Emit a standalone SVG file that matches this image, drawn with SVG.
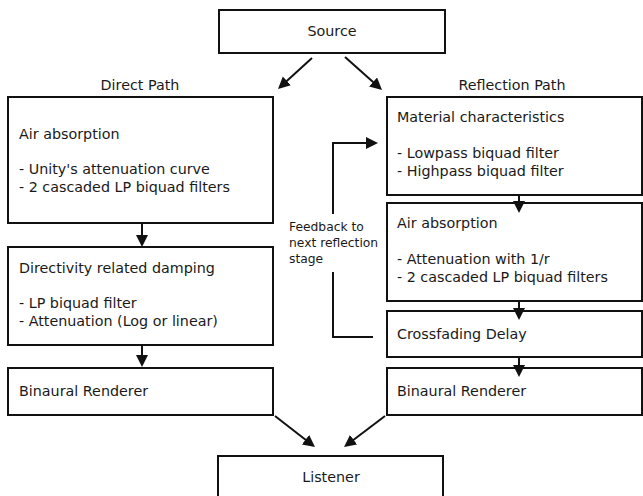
<svg xmlns="http://www.w3.org/2000/svg" width="643" height="496" viewBox="0 0 643 496">
<style>
.box{fill:#fff;stroke:#111;stroke-width:2}
.t{font-family:"DejaVu Sans",sans-serif;font-size:14.3px;fill:#1a1a1a}
.c{text-anchor:middle}
.s{font-family:"DejaVu Sans",sans-serif;font-size:12.3px;fill:#1a1a1a}
.ln{fill:none;stroke:#111;stroke-width:2;marker-end:url(#ah)}
.pl{fill:none;stroke:#111;stroke-width:2}
</style>
<defs>
<marker id="ah" markerUnits="userSpaceOnUse" markerWidth="13" markerHeight="13" refX="9" refY="6" orient="auto">
<path d="M0,0 L12,6 L0,12 z" fill="#111"/>
</marker>
</defs>
<rect width="643" height="496" fill="#fff"/>
<g id="source"><rect class="box" x="219" y="10" width="226" height="43"/><text class="t c" x="332" y="36">Source</text></g>
<g id="label-direct"><text class="t c" x="140" y="90">Direct Path</text></g>
<g id="label-reflection"><text class="t c" x="512" y="90">Reflection Path</text></g>
<g id="d-air"><rect class="box" x="8" y="97" width="265" height="126"/>
<text class="t" x="19" y="139">Air absorption</text>
<text class="t" x="19" y="174">- Unity's attenuation curve</text>
<text class="t" x="19" y="192">- 2 cascaded LP biquad filters</text></g>
<g id="d-dir"><rect class="box" x="8" y="247" width="265" height="98"/>
<text class="t" x="19" y="273">Directivity related damping</text>
<text class="t" x="19" y="308">- LP biquad filter</text>
<text class="t" x="19" y="326">- Attenuation (Log or linear)</text></g>
<g id="d-bin"><rect class="box" x="8" y="368" width="265" height="47"/>
<text class="t" x="19" y="396">Binaural Renderer</text></g>
<g id="r-mat"><rect class="box" x="387" y="97" width="255" height="98"/>
<text class="t" x="397" y="122">Material characteristics</text>
<text class="t" x="397" y="158">- Lowpass biquad filter</text>
<text class="t" x="397" y="176">- Highpass biquad filter</text></g>
<g id="r-air"><rect class="box" x="387" y="203" width="255" height="98"/>
<text class="t" x="397" y="228">Air absorption</text>
<text class="t" x="397" y="264">- Attenuation with 1/r</text>
<text class="t" x="397" y="282">- 2 cascaded LP biquad filters</text></g>
<g id="r-delay"><rect class="box" x="387" y="311" width="255" height="46"/>
<text class="t" x="397" y="339">Crossfading Delay</text></g>
<g id="r-bin"><rect class="box" x="387" y="368" width="255" height="47"/>
<text class="t" x="397" y="396">Binaural Renderer</text></g>
<g id="listener"><rect class="box" x="218" y="456" width="225" height="50"/>
<text class="t c" x="331" y="482">Listener</text></g>
<g id="feedback-label">
<text class="s" x="289" y="231">Feedback to</text>
<text class="s" x="289" y="247">next reflection</text>
<text class="s" x="289" y="263">stage</text></g>
<g id="connectors">
<line class="ln" x1="312" y1="58" x2="280.2" y2="87"/>
<line class="ln" x1="345" y1="57" x2="379.8" y2="88"/>
<line class="ln" x1="142" y1="223" x2="142" y2="244"/>
<line class="ln" x1="142" y1="345" x2="142" y2="364"/>
<line class="ln" x1="519" y1="195" x2="519" y2="210"/>
<line class="ln" x1="519" y1="301" x2="519" y2="317"/>
<line class="ln" x1="519" y1="357" x2="519" y2="374"/>
<line class="ln" x1="275" y1="416" x2="312.6" y2="445.2"/>
<line class="ln" x1="385" y1="416" x2="346.4" y2="445.2"/>
<polyline class="pl" points="373,337 333,337 333,272"/>
<polyline class="ln" points="333,214 333,143 375,143"/>
</g>
</svg>
